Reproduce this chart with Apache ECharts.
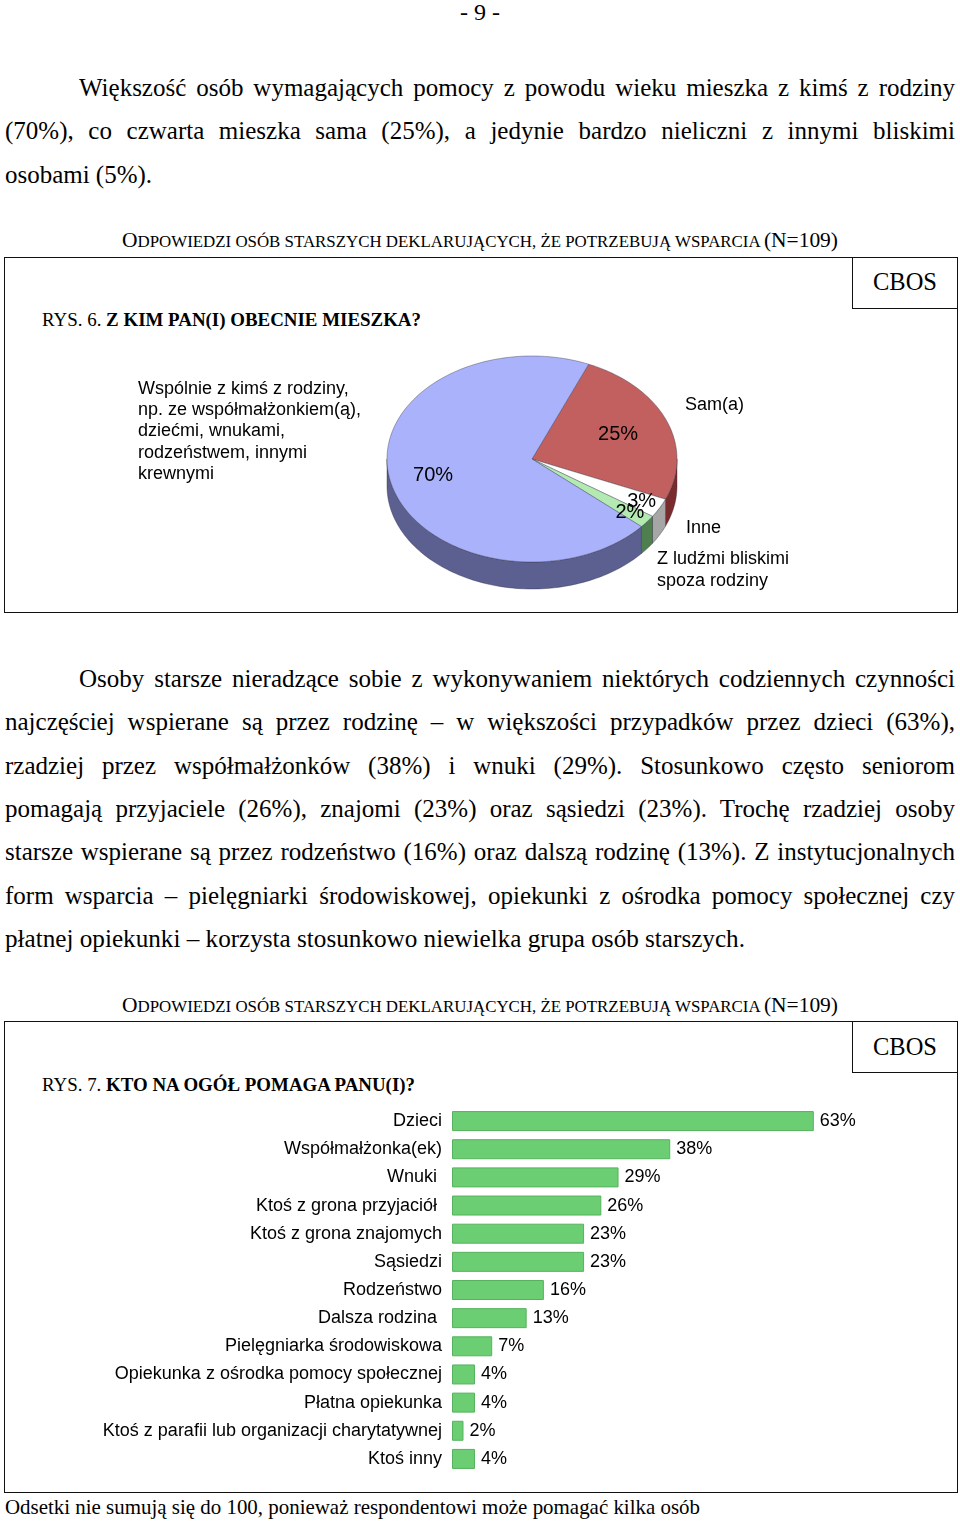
<!DOCTYPE html>
<html>
<head>
<meta charset="utf-8">
<script src="https://cdn.jsdelivr.net/npm/echarts@6/dist/echarts.min.js"></script>
<style>
html,body{margin:0;padding:0;background:#fff;}
body{width:960px;height:1521px;position:relative;overflow:hidden;font-family:"Liberation Serif","Times New Roman",serif;color:#000;}
.t{position:absolute;white-space:nowrap;line-height:1.2;transform-origin:left center;}
.body{font-size:25px;}
.pn{font-size:24px;}
.sc{font-size:16.5px;}
.sc .B{font-size:21px;}
.rys{font-size:18px;}
.cbos{font-size:25px;}
.foot{font-size:21px;}
.frame{position:absolute;border:1px solid #111;box-sizing:border-box;}
#chart{position:absolute;left:0;top:0;width:960px;height:1521px;z-index:2;}
</style>
</head>
<body>
<div class="t pn" data-x="460" data-y="12" data-w="40" data-m="s">- 9 -</div>

<div class="t body" data-x="79" data-y="88" data-w="876" data-m="j">Większość osób wymagających pomocy z powodu wieku mieszka z kimś z rodziny</div>
<div class="t body" data-x="5" data-y="131" data-w="950" data-m="j">(70%), co czwarta mieszka sama (25%), a jedynie bardzo nieliczni z innymi bliskimi</div>
<div class="t body" data-x="5" data-y="175" data-w="147" data-m="s">osobami (5%).</div>

<div class="t sc" data-x="122" data-y="241" data-w="716" data-m="s"><span class="B">O</span>DPOWIEDZI OSÓB STARSZYCH DEKLARUJĄCYCH, ŻE POTRZEBUJĄ WSPARCIA <span class="B">(N=109)</span></div>
<div class="frame" style="left:4px;top:257px;width:954px;height:356px;"></div>
<div class="frame" style="left:852px;top:257px;width:106px;height:52px;"></div>
<div class="t cbos" data-x="873" data-y="282" data-w="64" data-m="s">CBOS</div>
<div class="t rys" data-x="42" data-y="321" data-w="379" data-m="s">RYS. 6. <b>Z KIM PAN(I) OBECNIE MIESZKA?</b></div>

<div class="t body" data-x="79" data-y="679" data-w="876" data-m="j">Osoby starsze nieradzące sobie z wykonywaniem niektórych codziennych czynności</div>
<div class="t body" data-x="5" data-y="722" data-w="950" data-m="j">najczęściej wspierane są przez rodzinę – w większości przypadków przez dzieci (63%),</div>
<div class="t body" data-x="5" data-y="766" data-w="950" data-m="j">rzadziej przez współmałżonków (38%) i wnuki (29%). Stosunkowo często seniorom</div>
<div class="t body" data-x="5" data-y="809" data-w="950" data-m="j">pomagają przyjaciele (26%), znajomi (23%) oraz sąsiedzi (23%). Trochę rzadziej osoby</div>
<div class="t body" data-x="5" data-y="852" data-w="950" data-m="j">starsze wspierane są przez rodzeństwo (16%) oraz dalszą rodzinę (13%). Z instytucjonalnych</div>
<div class="t body" data-x="5" data-y="896" data-w="950" data-m="j">form wsparcia – pielęgniarki środowiskowej, opiekunki z ośrodka pomocy społecznej czy</div>
<div class="t body" data-x="5" data-y="939" data-w="740" data-m="s">płatnej opiekunki – korzysta stosunkowo niewielka grupa osób starszych.</div>

<div class="t sc" data-x="122" data-y="1006" data-w="716" data-m="s"><span class="B">O</span>DPOWIEDZI OSÓB STARSZYCH DEKLARUJĄCYCH, ŻE POTRZEBUJĄ WSPARCIA <span class="B">(N=109)</span></div>
<div class="frame" style="left:4px;top:1021px;width:954px;height:472px;"></div>
<div class="frame" style="left:852px;top:1021px;width:106px;height:52px;"></div>
<div class="t cbos" data-x="873" data-y="1047" data-w="64" data-m="s">CBOS</div>
<div class="t rys" data-x="42" data-y="1086" data-w="373" data-m="s">RYS. 7. <b>KTO NA OGÓŁ POMAGA PANU(I)?</b></div>

<div class="t foot" data-x="5" data-y="1508" data-w="695" data-m="s">Odsetki nie sumują się do 100, ponieważ respondentowi może pomagać kilka osób</div>

<div id="chart"></div>
<script>
// ---------- DATA ----------
const pieCategories = ['Sam(a)', 'Inne', 'Z ludźmi bliskimi\nspoza rodziny',
  'Wspólnie z kimś z rodziny,\nnp. ze współmałżonkiem(ą),\ndziećmi, wnukami,\nrodzeństwem, innymi\nkrewnymi'];
const pieValues = [25, 3, 2, 70];

const barCategories = ['Dzieci', 'Współmałżonka(ek)', 'Wnuki ', 'Ktoś z grona przyjaciół ',
  'Ktoś z grona znajomych', 'Sąsiedzi', 'Rodzeństwo', 'Dalsza rodzina ', 'Pielęgniarka środowiskowa',
  'Opiekunka z ośrodka pomocy społecznej', 'Płatna opiekunka',
  'Ktoś z parafii lub organizacji charytatywnej', 'Ktoś inny'];
const barValues = [63, 38, 29, 26, 23, 23, 16, 13, 7, 4, 4, 2, 4];

// ---------- TEXT LAYOUT ----------
document.querySelectorAll('.t').forEach(function (el) {
  const x = +el.dataset.x, y = +el.dataset.y, w = +el.dataset.w, m = el.dataset.m;
  el.style.left = x + 'px';
  const r = el.getBoundingClientRect();
  el.style.top = (y - r.height / 2) + 'px';
  if (m === 'j') {
    const n = (el.textContent.match(/ /g) || []).length;
    if (n > 0) el.style.wordSpacing = ((w - r.width) / n) + 'px';
  } else {
    el.style.transform = 'scaleX(' + (w / r.width) + ')';
  }
});

// ---------- PIE (3D-look, elliptical) ----------
const PIE = { cx: 532, cy: 459, rx: 145, ry: 103, depth: 27, start: 23 };
const topColors = ['#C2605F', '#FFFFFF', '#B2EAB2', '#AAB2FB'];
const sideColors = ['#7A2B2B', '#A6A6A6', '#4F7F4F', '#5B6090'];
const pctRadius = [0.64, 0.86, 0.85, 0.7];
const SANS = '"Liberation Sans", Arial, sans-serif';

function ept(deg, dy) {
  const a = deg * Math.PI / 180;
  return [PIE.cx + PIE.rx * Math.sin(a), PIE.cy - PIE.ry * Math.cos(a) + (dy || 0)];
}
function arc(a0, a1, dy) {
  const pts = [];
  const n = Math.max(2, Math.ceil((a1 - a0) / 1.5));
  for (let k = 0; k <= n; k++) pts.push(ept(a0 + (a1 - a0) * k / n, dy));
  return pts;
}
const pieTotal = pieValues.reduce((s, v) => s + v, 0);

function renderSlice(params, api) {
  const i = params.dataIndex;
  const v = api.value(0);
  let before = 0;
  for (let k = 0; k < i; k++) before += pieValues[k];
  const a0 = PIE.start + before / pieTotal * 360;
  const a1 = a0 + v / pieTotal * 360;
  const children = [];
  [0, 360].forEach(function (off) {
    const s = Math.max(a0, 90 + off), e = Math.min(a1, 270 + off);
    if (e > s) {
      const topArc = arc(s, e, 0);
      const botArc = arc(s, e, PIE.depth).reverse();
      children.push({
        type: 'polygon', z2: 1,
        shape: { points: topArc.concat(botArc) },
        style: { fill: sideColors[i], stroke: 'rgba(40,40,60,0.55)', lineWidth: 0.7 }
      });
    }
  });
  children.push({
    type: 'polygon', z2: 5,
    shape: { points: [[PIE.cx, PIE.cy]].concat(arc(a0, a1, 0)) },
    style: { fill: topColors[i], stroke: 'rgba(60,60,80,0.6)', lineWidth: 0.7 }
  });
  const m = (a0 + a1) / 2 * Math.PI / 180, f = pctRadius[i];
  children.push({
    type: 'text', z2: 10,
    style: {
      text: v + '%', x: PIE.cx + PIE.rx * f * Math.sin(m), y: PIE.cy - PIE.ry * f * Math.cos(m),
      fill: '#000', font: '20px ' + SANS, align: 'center', verticalAlign: 'middle',
      textAlign: 'center', textVerticalAlign: 'middle'
    }
  });
  return { type: 'group', children: children };
}

const nameLabelPos = [[685, 394], [686, 517], [657, 548], [138, 378]];
const nameLineHeight = [22, 22, 22, 21.3];
const nameGraphics = pieCategories.map(function (txt, i) {
  return {
    type: 'text', z: 10,
    style: {
      text: txt, x: nameLabelPos[i][0], y: nameLabelPos[i][1], fill: '#000',
      font: '18px ' + SANS, lineHeight: nameLineHeight[i],
      align: 'left', verticalAlign: 'top', textAlign: 'left', textVerticalAlign: 'top'
    }
  };
});

// ---------- CHART ----------
const chart = echarts.init(document.getElementById('chart'), null, { renderer: 'canvas' });
chart.setOption({
  animation: false,
  backgroundColor: 'transparent',
  graphic: nameGraphics,
  grid: { left: 452, right: 106, top: 1107, bottom: 48, containLabel: false },
  xAxis: { type: 'value', min: 0, max: 70, show: false },
  yAxis: {
    type: 'category', data: barCategories, inverse: true,
    axisLine: { show: false }, axisTick: { show: false }, splitLine: { show: false },
    axisLabel: { interval: 0, margin: 10, color: '#000', fontSize: 18, fontFamily: SANS }
  },
  series: [
    {
      type: 'custom', coordinateSystem: 'none',
      renderItem: renderSlice,
      data: pieValues.map(function (v, i) { return [v, i]; }),
      silent: true
    },
    {
      type: 'bar', data: barValues, barWidth: 20,
      itemStyle: { color: '#6BCE73', borderColor: '#57B25F', borderWidth: 1 },
      label: {
        show: true, position: 'right', distance: 6, formatter: '{c}%',
        color: '#000', fontSize: 18, fontFamily: SANS
      },
      silent: true
    }
  ]
});
</script>
</body>
</html>
